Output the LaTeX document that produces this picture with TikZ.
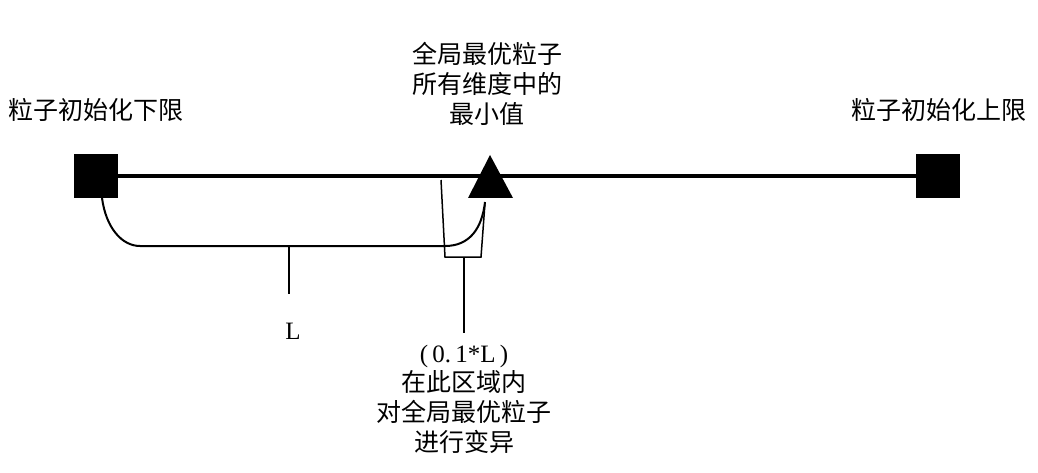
\documentclass[tikz,border=0pt]{standalone}
\usepackage{fontspec}
\setmainfont{Liberation Serif}
\newfontfamily\cjk{Noto Sans CJK SC}
\begin{document}
\begin{tikzpicture}[x=1pt,y=-1pt,
  endbox/.style={fill=black,draw=none,minimum size=44pt,inner sep=0pt},
  lbl/.style={font=\cjk\fontsize{25}{30}\selectfont,align=center,inner sep=0pt},
  latin/.style={font=\fontsize{25}{30}\selectfont,inner sep=0pt},
  brace/.style={line width=2pt},
  thinbrace/.style={line width=1.5pt}]
\useasboundingbox (0,0) rectangle (1038,473);
% main line
\node[endbox] (lo) at (96,176) {};
\node[endbox] (hi) at (938,176) {};
\draw[line width=4pt] (lo.east) -- (hi.west);
% triangle (global best)
\coordinate (apex) at (490,155);
\fill (apex) -- (513,198) -- (468,198) -- cycle;
% labels
\node[lbl] (lolbl) at (96,110) {粒子初始化下限};
\node[lbl] (hilbl) at (939,110) {粒子初始化上限};
\node[lbl] (toplbl) at (487,84) {全局最优粒子\\所有维度中的\\最小值};
% big bracket L
\coordinate (b1) at (102,198);
\coordinate (b2) at (140,246);
\coordinate (b3) at (445,246);
\coordinate (b4) at (485,202);
\draw[brace] (b1) .. controls (106,228) and (122,246) .. (b2) -- (b3)
  .. controls (470,246) and (482,228) .. (b4);
\coordinate (lt1) at (289,246);
\coordinate (lt2) at (289,294);
\draw[brace] (lt1) -- (lt2);
\node[latin] (L) at (293,331) {L};
% small bracket 0.1L
\coordinate (s1) at (441,180);
\coordinate (s2) at (445,257);
\coordinate (s3) at (481,257);
\coordinate (s4) at (485,203);
\draw[thinbrace] (s1) -- (s2) -- (s3) -- (s4);
\coordinate (st1) at (464,257);
\coordinate (st2) at (464,333);
\draw[thinbrace] (st1) -- (st2);
\node[latin] (pct) at (464,356) {(\,0.\,1*L\,)};
\node[lbl,anchor=north] (botlbl) at (464,370) {在此区域内\\对全局最优粒子\\进行变异};
\end{tikzpicture}
\end{document}
